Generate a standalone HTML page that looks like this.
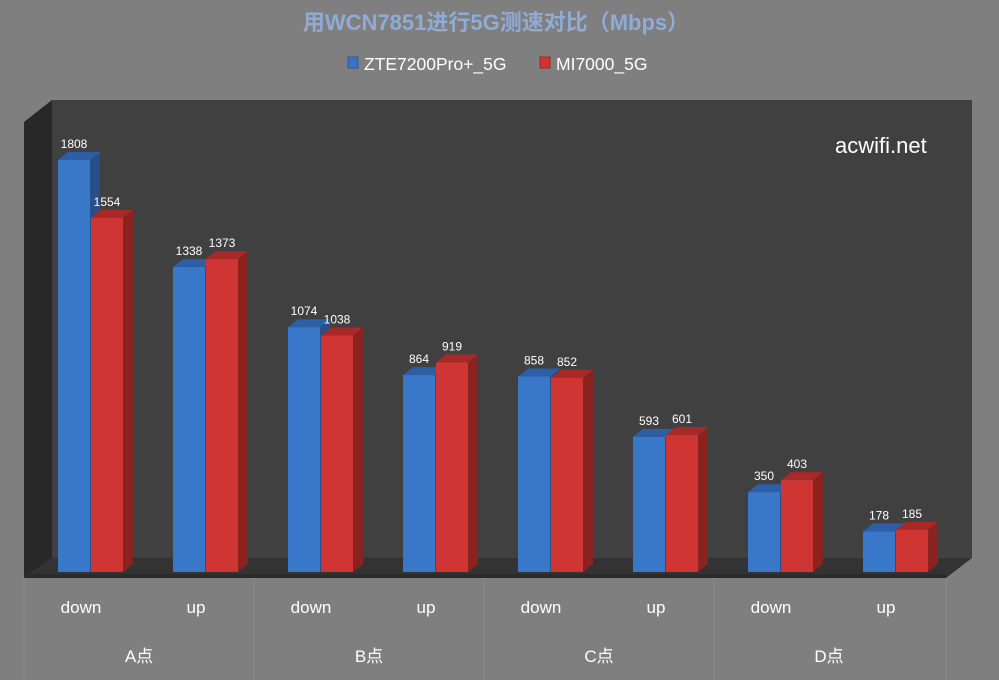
<!DOCTYPE html>
<html><head><meta charset="utf-8">
<style>
html,body{margin:0;padding:0;background:#7f7f7f;}
svg{display:block;font-family:"Liberation Sans","Noto Sans CJK SC",sans-serif;}
</style></head>
<body>
<svg id="chart" width="999" height="680" viewBox="0 0 999 680">
<rect x="0" y="0" width="999" height="680" fill="#7f7f7f"/>
<text x="496" y="30" text-anchor="middle" font-size="22" font-weight="bold" fill="#8fabd6">用WCN7851进行5G测速对比（Mbps）</text>
<g>
<g>
<rect x="348" y="57" width="10" height="11" fill="#3a73c4" stroke="#2a5aa0"/>
<text x="364" y="70" font-size="17.5" fill="#ffffff">ZTE7200Pro+_5G</text>
</g>
<g>
<rect x="540" y="57" width="10" height="11" fill="#d03432" stroke="#a02826"/>
<text x="556" y="70" font-size="17.5" fill="#ffffff">MI7000_5G</text>
</g>
</g>
<polygon points="52,100 972,100 972,558 52,558" fill="#404040"/>
<polygon points="24,122 52,100 52,558 24,578" fill="#282828"/>
<polygon points="24,578 52,558 972,558 946,578" fill="#333333"/>
<rect x="24" y="574" width="922" height="4" fill="#2a2a2a"/>
<text x="835" y="153" font-size="22" fill="#ffffff">acwifi.net</text>
<g id="bars"></g>
<g id="axis"></g>
</svg>
<script>
const categories = ["down","up","down","up","down","up","down","up"];
const groups = ["A点","B点","C点","D点"];
const zteValues = [1808,1338,1074,864,858,593,350,178];
const miValues = [1554,1373,1038,919,852,601,403,185];

const NS = "http://www.w3.org/2000/svg";
const baseY = 572, pxPerUnit = 0.2279;
function yScale(v){ return baseY - v*pxPerUnit; }
function xScale(i){ return 58 + i*115; }
const bw = 32, dx = 10, dy = 8;
const bars = document.getElementById('bars');
function mk(tag, attrs){ const e=document.createElementNS(NS,tag); for(const k in attrs) e.setAttribute(k,attrs[k]); return e; }
function drawBar(x, v, front, top, side, name){
  const y = yScale(v);
  const g = mk('g',{});
  
  
  g.appendChild(mk('polygon',{points:`${x+bw},${y} ${x+bw+dx},${y-dy} ${x+bw+dx},${baseY-dy} ${x+bw},${baseY}`,fill:side}));
  g.appendChild(mk('polygon',{points:`${x},${y} ${x+dx},${y-dy} ${x+bw+dx},${y-dy} ${x+bw},${y}`,fill:top}));
  g.appendChild(mk('rect',{x:x,y:y,width:bw,height:baseY-y,fill:front}));
  const t = mk('text',{x:x+bw/2,y:y-12,'text-anchor':'middle','font-size':12,fill:'#ffffff'});
  t.textContent = v;
  
  
  g.appendChild(t);
  bars.appendChild(g);
}
for(let i=0;i<categories.length;i++){
  drawBar(xScale(i), zteValues[i], '#3977c8', '#2c5fa6', '#264f8c', 'bar-zte-'+i);
}
for(let i=0;i<categories.length;i++){
  drawBar(xScale(i)+33, miValues[i], '#cf3633', '#a72a28', '#8a2220', 'bar-mi-'+i);
}
const axis = document.getElementById('axis');
for(let j=0;j<=groups.length;j++){
  const x = 24 + j*230 + (j==groups.length?2:0);
  const l = mk('line',{x1:x,y1:578,x2:x,y2:680,stroke:'#8c8c8c','stroke-width':1});
  
  
  axis.appendChild(l);
}
for(let i=0;i<categories.length;i++){
  const t = mk('text',{x:xScale(i)+23,y:613,'text-anchor':'middle','font-size':17,fill:'#ffffff'});
  t.textContent = categories[i];
  
  
  axis.appendChild(t);
}
for(let j=0;j<groups.length;j++){
  const t = mk('text',{x:139+j*230,y:662,'text-anchor':'middle','font-size':17,fill:'#ffffff'});
  t.textContent = groups[j];
  
  
  axis.appendChild(t);
}
</script>
</body></html>
